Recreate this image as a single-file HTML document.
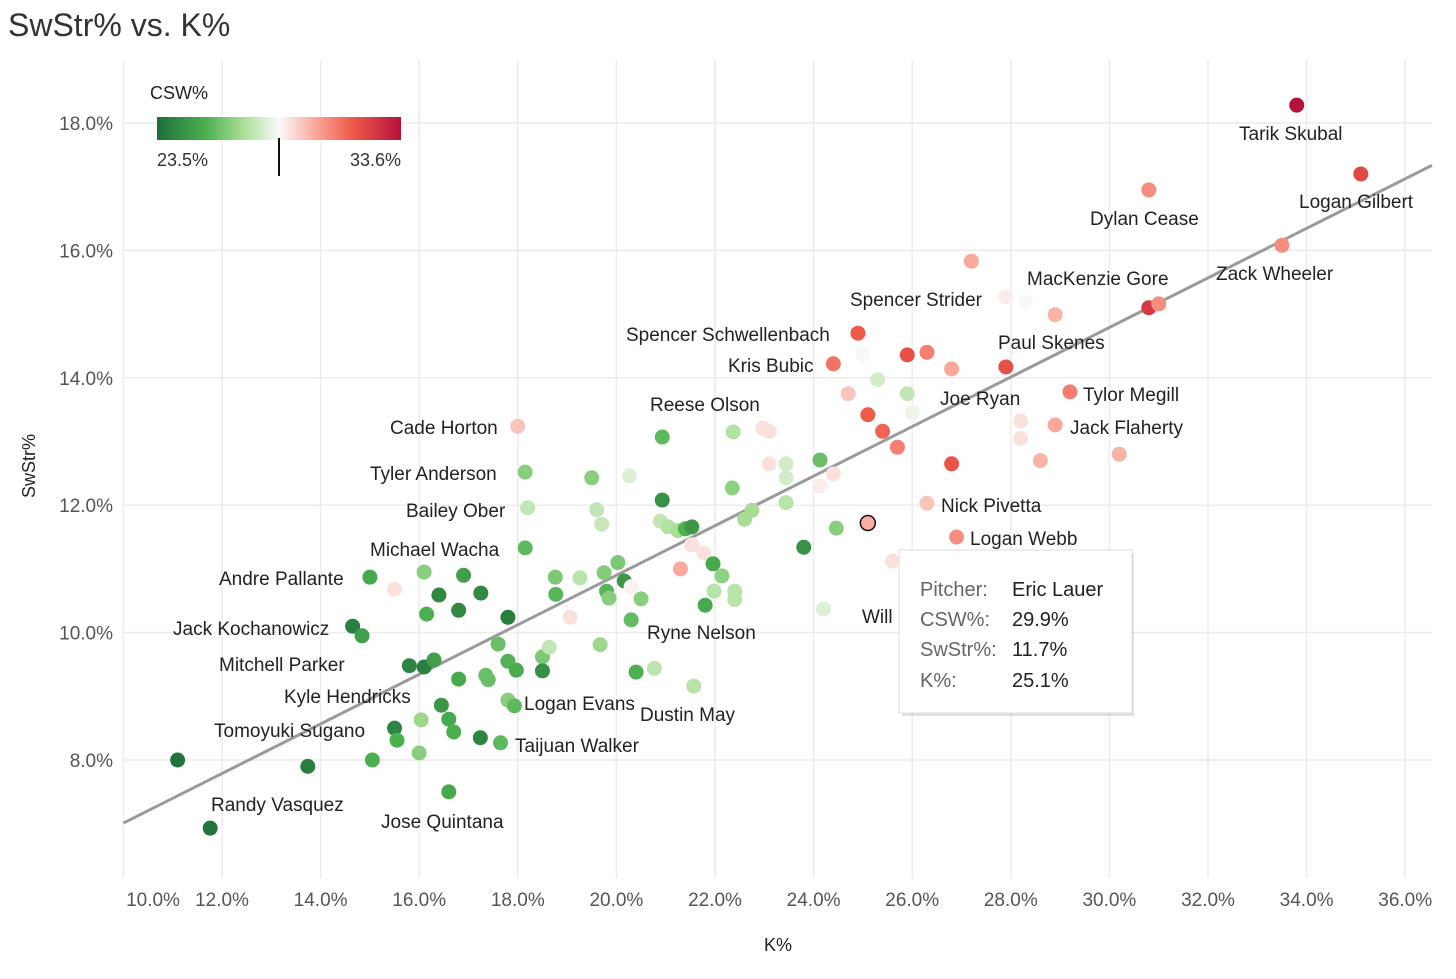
<!DOCTYPE html>
<html><head><meta charset="utf-8">
<style>
body{margin:0;background:#fff;font-family:"Liberation Sans",sans-serif;}
svg text{font-family:"Liberation Sans",sans-serif;}
</style></head>
<body>
<svg id="c" width="1456" height="974">
<text x="8" y="36" font-size="32" fill="#333">SwStr% vs. K%</text>
<g id="grid"></g>
<g id="axes"></g>
<line id="trend" stroke="#9a9a9a" stroke-width="3"/>
<g id="pts"></g>
<g id="labels"></g>
<g>
<defs><linearGradient id="gr" x1="0" x2="1">
<stop offset="0" stop-color="#1e6e3a"/><stop offset="0.2" stop-color="#4caf50"/><stop offset="0.35" stop-color="#a8dd95"/><stop offset="0.5" stop-color="#fafafa"/><stop offset="0.65" stop-color="#f9a89a"/><stop offset="0.8" stop-color="#ef5a4a"/><stop offset="1" stop-color="#b5123b"/></linearGradient></defs>
<text x="150" y="99" font-size="18" fill="#222">CSW%</text>
<rect x="157" y="117" width="244" height="23" fill="url(#gr)"/>
<text x="157" y="166" font-size="18" fill="#333">23.5%</text>
<text x="401" y="166" font-size="18" fill="#333" text-anchor="end">33.6%</text>
<line x1="279" y1="138" x2="279" y2="176" stroke="#111" stroke-width="2"/>
</g>
<g>
<rect x="902" y="553" width="232" height="163" fill="#000" opacity="0.12"/>
<rect x="899" y="550" width="233" height="163" fill="#fff" stroke="#ddd"/>
<g font-size="20" fill="#666"><text x="920" y="596">Pitcher:</text><text x="920" y="626">CSW%:</text><text x="920" y="656">SwStr%:</text><text x="920" y="687">K%:</text></g>
<g font-size="20" fill="#222"><text x="1012" y="596">Eric Lauer</text><text x="1012" y="626">29.9%</text><text x="1012" y="656">11.7%</text><text x="1012" y="687">25.1%</text></g>
</g>
</svg>
<script>
const kVals=[33.8,35.1,30.8,33.5,27.2,27.9,28.3,28.9,30.8,31.0,24.9,25.0,25.9,26.3,24.4,26.8,27.9,24.7,25.3,25.9,26.0,25.1,25.4,25.7,29.2,28.2,28.2,28.9,28.6,30.2,26.8,26.3,26.9,25.6,24.2,18.0,18.15,18.2,18.15,15.0,15.5,14.65,14.84,15.8,16.1,16.3,16.1,16.15,16.4,16.8,16.9,17.25,17.8,16.8,17.6,17.8,17.97,17.35,17.4,16.45,16.6,16.7,16.04,15.5,15.55,16.0,15.05,13.74,11.1,11.76,16.6,17.24,17.65,17.8,17.93,18.5,18.5,18.64,18.76,18.77,19.06,19.26,19.5,19.6,19.7,19.75,19.8,19.85,20.03,20.16,20.26,20.5,20.3,20.3,19.67,20.4,20.77,20.93,20.93,20.89,21.05,21.25,21.4,21.53,21.53,21.77,21.3,21.96,22.14,21.8,21.98,22.4,22.4,21.57,22.37,22.35,22.6,22.75,22.97,23.1,23.1,23.44,23.44,23.44,24.13,24.13,24.4,24.46,23.8,25.1];
const swVals=[18.28,17.2,16.95,16.08,15.83,15.27,15.19,14.99,15.1,15.16,14.7,14.36,14.36,14.4,14.22,14.14,14.17,13.75,13.97,13.75,13.45,13.42,13.16,12.91,13.78,13.32,13.05,13.26,12.7,12.8,12.65,12.03,11.5,11.12,10.37,13.24,12.52,11.96,11.33,10.87,10.68,10.1,9.95,9.48,9.46,9.57,10.95,10.29,10.59,10.35,10.9,10.62,10.24,9.27,9.82,9.55,9.41,9.33,9.26,8.86,8.64,8.44,8.63,8.5,8.31,8.11,8.0,7.9,8.0,6.93,7.5,8.35,8.27,8.94,8.85,9.62,9.4,9.77,10.87,10.6,10.24,10.86,12.43,11.93,11.7,10.94,10.65,10.54,11.1,10.81,12.46,10.53,10.72,10.2,9.81,9.38,9.44,13.07,12.08,11.75,11.66,11.6,11.63,11.66,11.38,11.25,11.0,11.08,10.89,10.43,10.65,10.65,10.52,9.16,13.15,12.27,11.78,11.92,13.21,13.16,12.65,12.65,12.43,12.04,12.71,12.3,12.49,11.64,11.34,11.72];
const cswVals=[33.6,32,30.5,30.5,30,28.8,28.6,29.8,32.5,30.5,31.5,28.5,31.8,30.8,31,30,31.8,29.5,27.8,27.5,28.3,31.5,31.3,30.8,30.8,29,29,30,29.8,29.8,31.7,29.5,30.5,29,28,29.5,26.5,27.5,25.8,25.3,29,24,25,24.2,24,25,26.5,25.5,24.3,24.3,25,24.3,24,25.3,26,25.6,25.4,26,26,24.7,25.3,25.5,26.8,24.2,25.5,26.5,25.5,24,23.7,23.7,25.3,24.2,25.8,26.5,25.8,26.3,24.5,27.5,26.3,25.7,29,27.3,26.5,27.5,27.6,26.4,25.7,26.5,26.3,24.8,28,26.5,28.7,25.9,26.8,25.5,27.4,25.8,24.6,27.5,27.2,27,25.5,24.8,29,29,30,25.3,26.6,25.3,27.3,27.3,27.3,27.3,27.2,26.6,27,27,29,29,29,27.8,27.8,27.3,26,28.8,29,26.5,24.6,29.9];
const xTicks=[10,12,14,16,18,20,22,24,26,28,30,32,34,36];
const yTicks=[8,10,12,14,16,18];
const labelNames=["Tarik Skubal","Logan Gilbert","Dylan Cease","Zack Wheeler","MacKenzie Gore","Spencer Strider","Spencer Schwellenbach","Paul Skenes","Kris Bubic","Tylor Megill","Joe Ryan","Reese Olson","Jack Flaherty","Cade Horton","Tyler Anderson","Bailey Ober","Nick Pivetta","Logan Webb","Michael Wacha","Andre Pallante","Will","Jack Kochanowicz","Ryne Nelson","Mitchell Parker","Kyle Hendricks","Logan Evans","Dustin May","Tomoyuki Sugano","Taijuan Walker","Randy Vasquez","Jose Quintana"];
const labelPos=[[1239,140],[1299,208],[1090,225],[1216,280],[1027,285],[850,306],[626,341],[998,349],[728,372],[1083,401],[940,405],[650,411],[1070,434],[390,434],[370,480],[406,517],[941,512],[970,545],[370,556],[219,585],[862,623],[173,635],[647,639],[219,671],[284,703],[524,710],[640,721],[214,737],[515,752],[211,811],[381,828]];
const NS="http://www.w3.org/2000/svg";
const X=v=>123.4+(v-10)*49.3, Y=v=>123-(v-18)*63.7;
function mk(t,a,p){const e=document.createElementNS(NS,t);for(const k in a)e.setAttribute(k,a[k]);p.appendChild(e);return e;}
const grid=document.getElementById('grid'),axes=document.getElementById('axes');
xTicks.forEach(t=>{const l=mk('line',{x1:X(t),x2:X(t),y1:60,y2:878,stroke:'#ececec','stroke-width':1.5},grid);


const tx=mk('text',{x:t===10?153:X(t),y:906,'font-size':19,fill:'#555','text-anchor':'middle'},axes);tx.textContent=t.toFixed(1)+'%';

});
yTicks.forEach(t=>{const l=mk('line',{x1:124,x2:1432,y1:Y(t),y2:Y(t),stroke:'#ececec','stroke-width':1.5},grid);


const tx=mk('text',{x:113,y:Y(t)+7,'font-size':19,fill:'#555','text-anchor':'end'},axes);tx.textContent=t.toFixed(1)+'%';

});
let xl=mk('text',{x:778,y:951,'font-size':18,fill:'#222','text-anchor':'middle'},axes);xl.textContent='K%';


let yl=mk('text',{x:35,y:466,'font-size':18,fill:'#222','text-anchor':'middle',transform:'rotate(-90 35 466)'},axes);yl.textContent='SwStr%';


const tr=document.getElementById('trend');tr.setAttribute('x1',X(10));tr.setAttribute('y1',Y(7.01));tr.setAttribute('x2',1432);tr.setAttribute('y2',Y(7.01+0.389*((1432-123.4)/49.3)));
const stops=[[23.5,[30,110,58]],[25.5,[76,175,80]],[27,[168,221,149]],[28.55,[250,250,250]],[30,[249,168,154]],[31.5,[239,90,74]],[33.6,[181,18,59]]];
function col(v){v=Math.max(23.5,Math.min(33.6,v));for(let i=0;i<stops.length-1;i++){const[a,ca]=stops[i],[b,cb]=stops[i+1];if(v<=b){const f=(v-a)/(b-a);return 'rgb('+ca.map((c,j)=>Math.round(c+(cb[j]-c)*f)).join(',')+')';}}}
const pts=document.getElementById('pts');
kVals.forEach((k,i)=>{const last=i===kVals.length-1;const c=mk('circle',{cx:X(k),cy:Y(swVals[i]),r:7.5,fill:col(cswVals[i]),stroke:last?'#111':'none','stroke-width':last?1.5:0},pts);

});
const lg=document.getElementById('labels');
labelNames.forEach((n,i)=>{const t=mk('text',{x:labelPos[i][0],y:labelPos[i][1],'font-size':19,fill:'#222'},lg);t.textContent=n;

});
</script>
</body></html>
